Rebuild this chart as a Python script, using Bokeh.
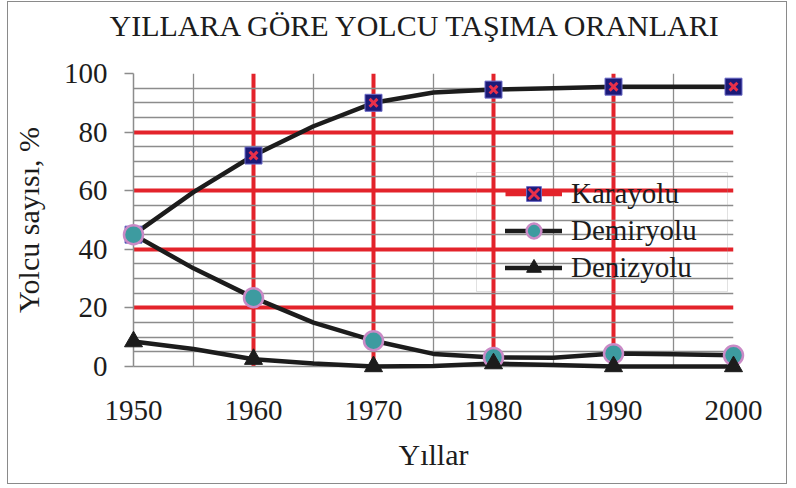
from bokeh.plotting import figure
from bokeh.models import (Range1d, FixedTicker, Grid, Legend, LegendItem,
                          BoxAnnotation, ColumnDataSource, Title)
from bokeh.embed import file_html
from bokeh.resources import INLINE

# Passenger share by transport mode, read every five years
years = [1950, 1955, 1960, 1965, 1970, 1975, 1980, 1985, 1990, 1995, 2000]
karayolu = [45, 59.5, 72, 82, 90, 93.5, 94.5, 95, 95.5, 95.5, 95.5]
demiryolu = [45, 33.5, 23.5, 15, 8.8, 4.3, 3.1, 3, 4.4, 4.2, 3.8]
denizyolu = [8.5, 6, 2.5, 1, 0, 0.2, 1, 0.5, 0, 0, 0]

# markers sit on the decade values
decades = years[::2]

x_ticks = [1950, 1960, 1970, 1980, 1990, 2000]
y_ticks = [0, 20, 40, 60, 80, 100]
x_minor = [1955, 1965, 1975, 1985, 1995]
y_minor = [v for v in range(5, 100, 5) if v % 20]

SERIF = "Liberation Serif"
RED = "#e3232b"
EDGE = "#d8645e"
GRAY = "#8c8c8c"
INK = "#1c1c1c"

p = figure(width=778, height=481, output_backend="svg", toolbar_location=None,
           x_range=Range1d(x_ticks[0], x_ticks[-1]),
           y_range=Range1d(y_ticks[0], y_ticks[-1]),
           min_border_left=123, min_border_right=53,
           min_border_top=71, min_border_bottom=117,
           background_fill_color="white", border_fill_color="white",
           outline_line_color=None,
           styles={"margin-left": "8px", "margin-top": "2px",
                   "outline": "1.5px solid #8a8a8a"})

# title, lifted above a small blank spacer line
p.title.text = "YILLARA GÖRE YOLCU TAŞIMA ORANLARI"
p.title.text_font = SERIF
p.title.text_font_size = "30px"
p.title.text_font_style = "normal"
p.title.text_color = INK
p.title.align = "left"
p.title.offset = -24
p.title.standoff = 0
p.add_layout(Title(text=" ", text_font_size="10px", standoff=19), "above")

# axes
xa = p.xaxis[0]
ya = p.yaxis[0]
xa.ticker = FixedTicker(ticks=x_ticks)
ya.ticker = FixedTicker(ticks=y_ticks)
for ax in (xa, ya):
    ax.axis_line_color = GRAY
    ax.axis_line_width = 1.5
    ax.major_label_text_font = SERIF
    ax.major_label_text_font_size = "29px"
    ax.major_label_text_color = INK
    ax.axis_label_text_font = SERIF
    ax.axis_label_text_font_size = "30px"
    ax.axis_label_text_font_style = "normal"
    ax.axis_label_text_color = INK
    ax.minor_tick_line_color = None
xa.axis_label = "Yıllar"
ya.axis_label = "Yolcu sayısı, %"
xa.major_tick_line_color = None
xa.major_tick_out = 0
xa.major_tick_in = 0
xa.major_label_standoff = 34
xa.axis_label_standoff = 15
ya.major_tick_line_color = GRAY
ya.major_tick_line_width = 1.5
ya.major_tick_out = 9
ya.major_tick_in = 0
ya.major_label_standoff = 17
ya.axis_label_standoff = 16

# grid: gray minor lines, thick red major lines, reddish edge at 100 / 2000
xg = p.xgrid[0]
yg = p.ygrid[0]
xg.ticker = FixedTicker(ticks=x_ticks[1:-1], minor_ticks=x_minor)
yg.ticker = FixedTicker(ticks=y_ticks[1:-1], minor_ticks=y_minor)
for g in (xg, yg):
    g.grid_line_color = RED
    g.grid_line_width = 4
    g.minor_grid_line_color = GRAY
    g.minor_grid_line_width = 1.3
p.add_layout(Grid(dimension=0, ticker=FixedTicker(ticks=[x_ticks[-1]]),
                  grid_line_color=EDGE, grid_line_width=5))
p.add_layout(Grid(dimension=1, ticker=FixedTicker(ticks=[y_ticks[-1]]),
                  grid_line_color=EDGE, grid_line_width=4))

# series lines (overlay level so marks at the edges are not cut)
line_kw = dict(line_color=INK, line_width=4.5, line_join="round",
               line_cap="round", level="overlay")
p.line(years, karayolu, **line_kw)
demir_line = p.line(years, demiryolu, **line_kw)
deniz_line = p.line(years, denizyolu, **line_kw)

# markers
kara_sq = p.scatter(decades, karayolu[::2], marker="square", size=17,
                    fill_color="#1b1a78", line_color="#6c6cc8", line_width=1,
                    level="overlay")
kara_x = p.scatter(decades, karayolu[::2], marker="x", size=11,
                   line_color="#e8304a", line_width=3, level="overlay")
demir_pt = p.scatter(decades, demiryolu[::2], marker="circle", size=19,
                     fill_color="#3d9ba0", line_color="#c98ac6", line_width=2.5,
                     level="overlay")
deniz_pt = p.scatter(decades, denizyolu[::2], marker="triangle", size=18,
                     fill_color=INK, line_color=INK, line_width=1,
                     level="overlay")

# legend swatch line for the road series (no visible points)
kara_key = p.line(x="x", y="y",
                  source=ColumnDataSource(dict(x=[years[0]], y=[float("nan")])),
                  line_color=RED, line_width=4.5)

legend = Legend(items=[
    LegendItem(label="Karayolu", renderers=[kara_key, kara_sq, kara_x]),
    LegendItem(label="Demiryolu", renderers=[demir_line, demir_pt]),
    LegendItem(label="Denizyolu", renderers=[deniz_line, deniz_pt]),
], location=(372, 80), orientation="vertical",
    background_fill_alpha=0, border_line_alpha=0, padding=0, margin=0, spacing=0,
    glyph_width=57, glyph_height=37, label_height=37, label_standoff=9,
    label_text_font=SERIF, label_text_font_size="29px", label_text_color=INK)
p.add_layout(legend)

legend_box = BoxAnnotation(left=468, right=719, top=170, bottom=289,
                           left_units="canvas", right_units="canvas",
                           top_units="canvas", bottom_units="canvas",
                           fill_alpha=0, line_color="#9a9a9a", line_width=1)
p.add_layout(legend_box)

open("out.html", "w").write(file_html(p, INLINE))
